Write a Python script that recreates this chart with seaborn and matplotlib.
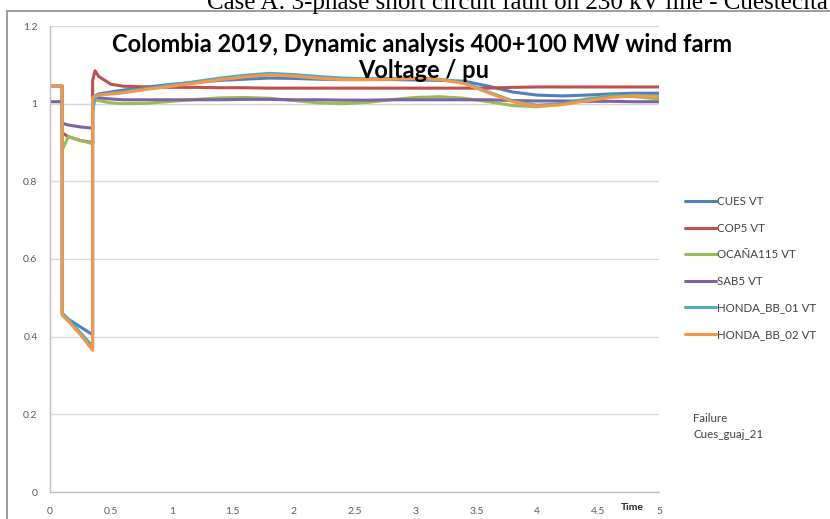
import matplotlib
matplotlib.use("Agg")
import matplotlib.pyplot as plt
import seaborn as sns
import pandas as pd
from matplotlib.patches import Rectangle

# ---------------- data ----------------
time = [0, 0.1, 0.1, 0.15, 0.25, 0.35, 0.35, 0.37, 0.4, 0.5, 0.6, 0.8, 1.0, 1.2, 1.4,
        1.6, 1.8, 2.0, 2.2, 2.4, 2.6, 2.8, 3.0, 3.2, 3.4, 3.6, 3.8, 4.0, 4.2, 4.4,
        4.6, 4.8, 5.0]

cues_vt = [1.045, 1.045, 0.46, 0.445, 0.425, 0.405, 1.015, 1.02, 1.025, 1.03, 1.035,
           1.043, 1.05, 1.055, 1.06, 1.063, 1.066, 1.065, 1.063, 1.062, 1.062, 1.062,
           1.061, 1.06, 1.058, 1.045, 1.03, 1.022, 1.02, 1.022, 1.025, 1.027, 1.027]
cops_vt = [1.045, 1.045, 0.925, 0.915, 0.905, 0.9, 1.06, 1.085, 1.07, 1.05, 1.045,
           1.043, 1.042, 1.042, 1.041, 1.041, 1.04, 1.04, 1.04, 1.04, 1.04, 1.04,
           1.04, 1.04, 1.04, 1.04, 1.042, 1.043, 1.043, 1.043, 1.043, 1.043, 1.043]
ocana115_vt = [1.045, 1.045, 0.88, 0.915, 0.905, 0.897, 1.0, 1.01, 1.008, 1.002, 1.0,
               1.001, 1.006, 1.011, 1.015, 1.016, 1.014, 1.008, 1.002, 1.0, 1.003,
               1.01, 1.016, 1.018, 1.014, 1.005, 0.995, 0.992, 1.0, 1.012, 1.02,
               1.018, 1.012]
sab5_vt = [1.005, 1.005, 0.95, 0.945, 0.94, 0.937, 1.02, 1.018, 1.015, 1.012, 1.01,
           1.01, 1.01, 1.01, 1.01, 1.011, 1.011, 1.01, 1.01, 1.009, 1.009, 1.01,
           1.01, 1.01, 1.01, 1.01, 1.008, 1.007, 1.007, 1.006, 1.006, 1.005, 1.005]
honda_01_vt = [1.045, 1.045, 0.46, 0.445, 0.41, 0.375, 0.98, 1.015, 1.022, 1.027,
               1.03, 1.04, 1.048, 1.057, 1.066, 1.073, 1.078, 1.075, 1.07, 1.066,
               1.064, 1.065, 1.066, 1.063, 1.054, 1.03, 1.007, 0.996, 1.0, 1.01,
               1.019, 1.022, 1.02]
honda_02_vt = [1.045, 1.045, 0.455, 0.44, 0.405, 0.365, 1.015, 1.02, 1.022, 1.025,
               1.028, 1.037, 1.045, 1.053, 1.062, 1.069, 1.074, 1.071, 1.066, 1.062,
               1.062, 1.063, 1.065, 1.062, 1.052, 1.028, 1.005, 0.993, 0.997, 1.007,
               1.016, 1.02, 1.018]

series_names = ["CUES VT", "COP5 VT", "OCAÑA115 VT", "SAB5 VT",
                "HONDA_BB_01 VT", "HONDA_BB_02 VT"]
series_values = [cues_vt, cops_vt, ocana115_vt, sab5_vt, honda_01_vt, honda_02_vt]
colors = ["#4F81BD", "#C0504D", "#9BBB59", "#8064A2", "#4BACC6", "#F79646"]

x_ticks = [0, 0.5, 1, 1.5, 2, 2.5, 3, 3.5, 4, 4.5, 5]
x_tick_labels = ["0", "0.5", "1", "1.5", "2", "2.5", "3", "3.5", "4", "4.5", "5"]
y_ticks = [0, 0.2, 0.4, 0.6, 0.8, 1.0, 1.2]
y_tick_labels = ["0", "0.2", "0.4", "0.6", "0.8", "1", "1.2"]

title_line1 = "Colombia 2019, Dynamic analysis 400+100 MW wind farm"
title_line2 = "Voltage / pu"
caption = "Case A: 3-phase short circuit fault on 230 kV line - Cuestecita"
note = "Failure\nCues_guaj_21"

rows = []
for name, vals in zip(series_names, series_values):
    for i, (t, v) in enumerate(zip(time, vals)):
        rows.append({"Time": t, "Voltage": v, "Series": name, "order": i})
df = pd.DataFrame(rows)

# ---------------- figure ----------------
sns.set_style("white")
plt.rcParams["font.family"] = ["Lato", "DejaVu Sans"]

W, H = 830, 519
fig = plt.figure(figsize=(W / 100, H / 100), dpi=100)
ax = fig.add_axes([50 / W, 1 - 492 / H, 609 / W, 466 / H])

sns.lineplot(data=df, x="Time", y="Voltage", hue="Series", palette=colors,
             hue_order=series_names, estimator=None, sort=False, units="Series",
             linewidth=2.2, ax=ax, legend=True)

ax.set_xlim(0, 5)
ax.set_ylim(0, 1.2)
ax.set_xticks(x_ticks)
ax.set_xticklabels(x_tick_labels)
ax.set_yticks(y_ticks)
ax.set_yticklabels(y_tick_labels)
ax.set_xlabel("")
ax.set_ylabel("")
ax.yaxis.grid(True, color="#D9D9D9", linewidth=1.0)
ax.xaxis.grid(False)
ax.set_axisbelow(True)
for s in ["top", "right"]:
    ax.spines[s].set_visible(False)
for s in ["left", "bottom"]:
    ax.spines[s].set_color("#BFBFBF")
    ax.spines[s].set_linewidth(1.0)
ax.tick_params(axis="both", which="both", direction="out", length=4, width=1,
               color="#BFBFBF", labelsize=7.5, labelcolor="#595959", pad=5)
ax.tick_params(axis="x", pad=7)

ax.text(4.78, -0.04, "Time", ha="center", va="center", fontsize=7.5,
        fontweight="bold", color="#262626", transform=ax.transData)

leg = ax.legend(loc="upper left", bbox_to_anchor=(1.043, 0.635), frameon=False,
                fontsize=8.3, handlelength=2.7, handletextpad=0.1, labelspacing=1.35,
                borderaxespad=0, borderpad=0)
for t in leg.get_texts():
    t.set_color("#404040")
for line in leg.get_lines():
    line.set_linewidth(2.2)

fig.text(693 / W, 1 - 413 / H, note, ha="left", va="top", fontsize=8.3,
         color="#404040", linespacing=1.6)

fig.text(422 / W, 1 - 45 / H, title_line1, ha="center", va="center", fontsize=17,
         fontweight="bold", color="black")
fig.text(424 / W, 1 - 71 / H, title_line2, ha="center", va="center", fontsize=17,
         fontweight="bold", color="black")

# chart frame and document caption
fig.add_artist(Rectangle((7 / W, -0.01), 1.0, 1 - 11 / H + 0.01, transform=fig.transFigure,
                         fill=False, edgecolor="#8C8C8C", linewidth=1.2))
fig.text(207 / W, 1 - 9 / H, caption, ha="left", va="baseline", fontsize=18,
         family="Liberation Serif", color="black")

fig.savefig("out.png", dpi=100)
